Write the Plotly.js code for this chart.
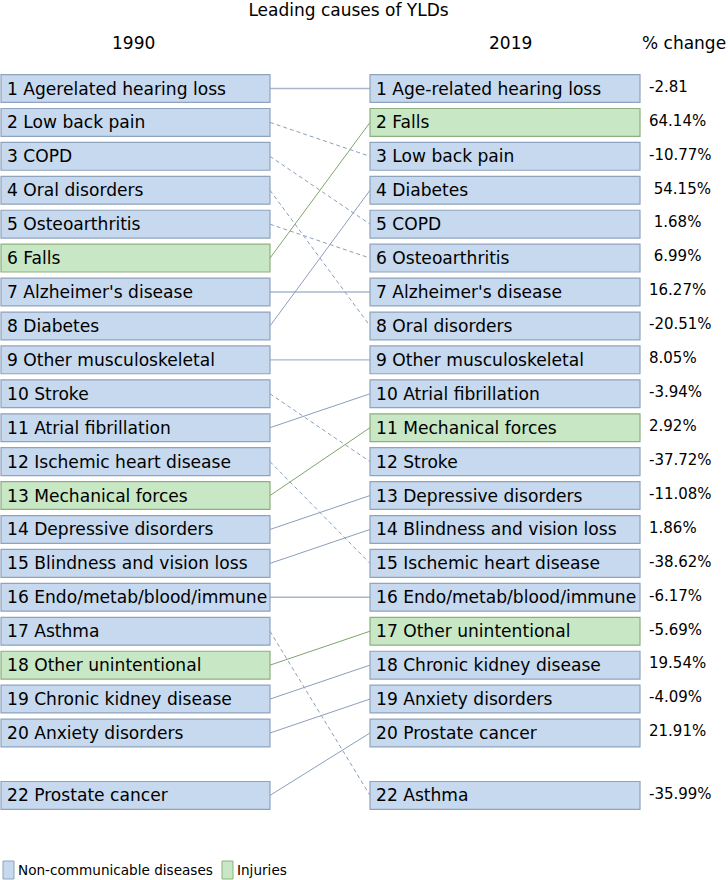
<!DOCTYPE html>
<html>
<head>
<meta charset="utf-8">
<script src="https://cdn.plot.ly/plotly-3.0.1.min.js"></script>
<style>html,body{margin:0;padding:0;background:#fff;}#chart{width:728px;height:880px;}</style>
</head>
<body>
<div id="chart"></div>
<script>
// ---- data ----
var causes1990 = ["Agerelated hearing loss","Low back pain","COPD","Oral disorders","Osteoarthritis","Falls","Alzheimer's disease","Diabetes","Other musculoskeletal","Stroke","Atrial fibrillation","Ischemic heart disease","Mechanical forces","Depressive disorders","Blindness and vision loss","Endo/metab/blood/immune","Asthma","Other unintentional","Chronic kidney disease","Anxiety disorders","Prostate cancer"];
var ranks1990 = [1,2,3,4,5,6,7,8,9,10,11,12,13,14,15,16,17,18,19,20,22];
var causes2019 = ["Age-related hearing loss","Falls","Low back pain","Diabetes","COPD","Osteoarthritis","Alzheimer's disease","Oral disorders","Other musculoskeletal","Atrial fibrillation","Mechanical forces","Stroke","Depressive disorders","Blindness and vision loss","Ischemic heart disease","Endo/metab/blood/immune","Other unintentional","Chronic kidney disease","Anxiety disorders","Prostate cancer","Asthma"];
var ranks2019 = [1,2,3,4,5,6,7,8,9,10,11,12,13,14,15,16,17,18,19,20,22];
var pctChange = ["-2.81","64.14%","-10.77%","\u00A054.15%","\u00A01.68%","\u00A06.99%","16.27%","-20.51%","8.05%","-3.94%","2.92%","-37.72%","-11.08%","1.86%","-38.62%","-6.17%","-5.69%","19.54%","-4.09%","21.91%","-35.99%"];
var injuries = ["Falls","Mechanical forces","Other unintentional"];
var groupNames = ["Non-communicable diseases","Injuries"];
var columnHeaders = ["1990","2019","% change"];

// ---- styles ----
var FONT = "DejaVu Sans, Verdana, sans-serif";
var fillNCD = "#c6d9ee", lineNCD = "#8fa3bc";
var fillINJ = "#c8e7c4", lineINJ = "#8db07f";
var connNCD = "#8a9fbb", connINJ = "#7ea56c";
var L0 = 1, L1 = 270, R0 = 370, R1 = 640, HALF = 0.41;

function slot(r){ return r <= 20 ? r : 20 + (r - 20) * 0.92; }
function norm(s){ return s.replace(/-/g, ""); }
function isInj(c){ return injuries.indexOf(c) >= 0; }

var shapes = [], annotations = [], traces = [];

// left boxes
causes1990.forEach(function(c, i){
  var y = slot(ranks1990[i]), inj = isInj(c);
  shapes.push({type:"rect", xref:"x", yref:"y", x0:L0, x1:L1, y0:y-HALF, y1:y+HALF,
    fillcolor: inj ? fillINJ : fillNCD, line:{color: inj ? lineINJ : lineNCD, width:1.2}, layer:"below"});
  annotations.push({xref:"x", yref:"y", x:L0+4, y:y, xanchor:"left", yanchor:"middle", showarrow:false,
    text: ranks1990[i] + " " + c, font:{family:FONT, size:17.1, color:"#000"}});
});
// right boxes + % change
causes2019.forEach(function(c, i){
  var y = slot(ranks2019[i]), inj = isInj(c);
  shapes.push({type:"rect", xref:"x", yref:"y", x0:R0, x1:R1, y0:y-HALF, y1:y+HALF,
    fillcolor: inj ? fillINJ : fillNCD, line:{color: inj ? lineINJ : lineNCD, width:1.2}, layer:"below"});
  annotations.push({xref:"x", yref:"y", x:R0+4, y:y, xanchor:"left", yanchor:"middle", showarrow:false,
    text: ranks2019[i] + " " + c, font:{family:FONT, size:17.1, color:"#000"}});
  annotations.push({xref:"x", yref:"y", x:647, y:y-0.05, xanchor:"left", yanchor:"middle", showarrow:false,
    text: pctChange[i], font:{family:FONT, size:15, color:"#000"}});
});
// connectors
causes1990.forEach(function(c, i){
  var j = -1;
  for (var k = 0; k < causes2019.length; k++) if (norm(causes2019[k]) === norm(c)) j = k;
  if (j < 0) return;
  var r1 = ranks1990[i], r2 = ranks2019[j], inj = isInj(c);
  var width = (r1 === r2) ? 1.4 : 1;
  traces.push({type:"scatter", mode:"lines", x:[L1, R0], y:[slot(r1), slot(r2)], hoverinfo:"skip", showlegend:false,
    line:{color: inj ? connINJ : connNCD, width: width, dash: r2 > r1 ? "4px,3px" : "solid"},
    opacity: r1 === r2 ? 0.75 : 1});
});

// headers
annotations.push({xref:"paper", yref:"paper", x:133.5/728, y:1-43/880, xanchor:"center", yanchor:"middle", showarrow:false, text:columnHeaders[0], font:{family:FONT, size:17, color:"#000"}});
annotations.push({xref:"paper", yref:"paper", x:510.5/728, y:1-43/880, xanchor:"center", yanchor:"middle", showarrow:false, text:columnHeaders[1], font:{family:FONT, size:17, color:"#000"}});
annotations.push({xref:"paper", yref:"paper", x:1, y:1-43/880, xanchor:"right", yanchor:"middle", showarrow:false, text:columnHeaders[2], font:{family:FONT, size:17, color:"#000"}});

// legend
var legFills = [fillNCD, fillINJ], legLines = [lineNCD, lineINJ], legX = [3, 222];
groupNames.forEach(function(g, i){
  shapes.push({type:"rect", xref:"paper", yref:"paper", x0:legX[i]/728, x1:(legX[i]+11)/728, y0:1-879/880, y1:1-861/880,
    fillcolor:legFills[i], line:{color:legLines[i], width:1}});
  annotations.push({xref:"paper", yref:"paper", x:(legX[i]+13)/728, y:1-870/880, xanchor:"left", yanchor:"middle", showarrow:false,
    text:g, font:{family:FONT, size:13.6, color:"#000"}});
});

var a = 1 - 88.5/33.92, b = a + 880/33.92;
var layout = {
  width:728, height:880, margin:{l:0, r:0, t:0, b:0},
  paper_bgcolor:"#fff", plot_bgcolor:"#fff",
  title:{text:"Leading causes of YLDs", x:348.5/728, xanchor:"center", y:1-10/880, yanchor:"middle", yref:"container", font:{family:FONT, size:17, color:"#000"}},
  xaxis:{range:[0,728], visible:false, fixedrange:true},
  yaxis:{range:[b, a], visible:false, fixedrange:true},
  shapes:shapes, annotations:annotations, showlegend:false
};
Plotly.newPlot("chart", traces, layout, {displayModeBar:false, staticPlot:true});
</script>
</body>
</html>
